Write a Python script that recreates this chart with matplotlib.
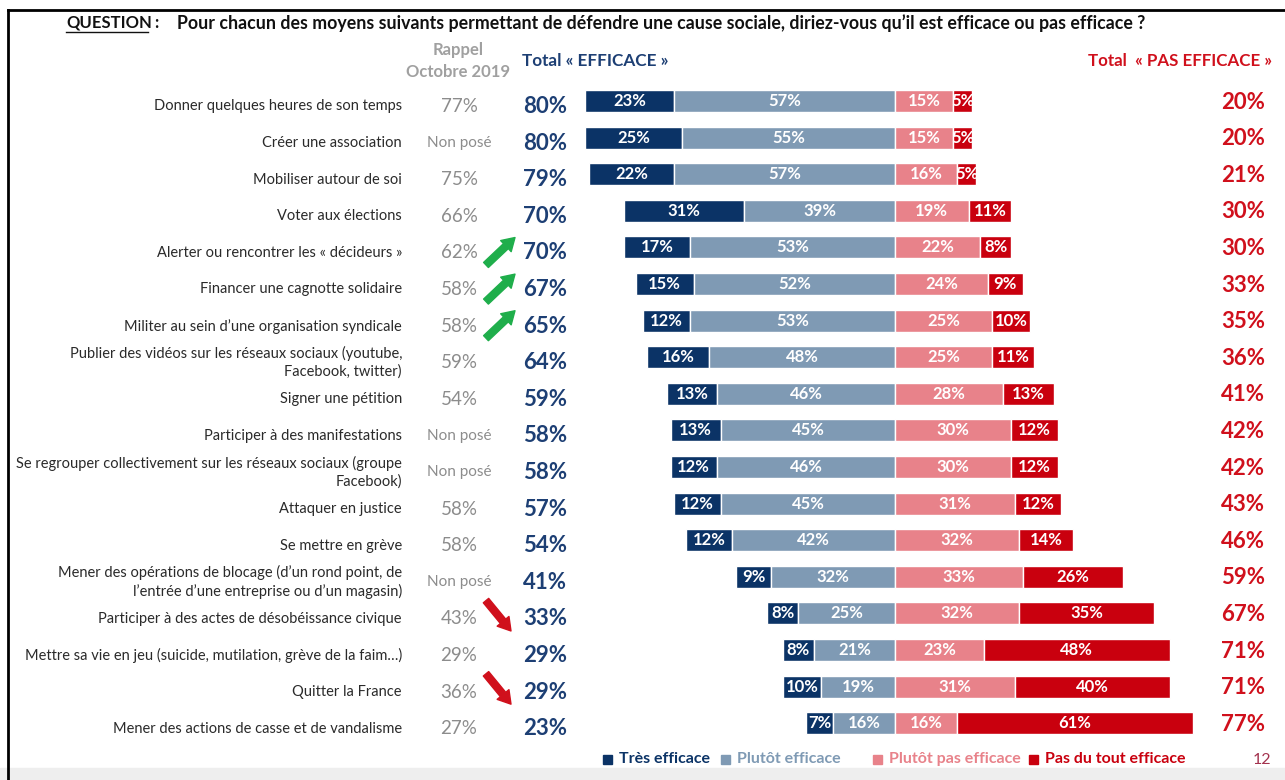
"""Diverging stacked bars: efficacité perçue des moyens de défendre une cause sociale."""

import matplotlib

matplotlib.use("Agg")
import matplotlib.pyplot as plt
from matplotlib.lines import Line2D
from matplotlib.patches import Rectangle

plt.rcParams["font.family"] = ["Lato", "DejaVu Sans"]

LABELS = [
    "Donner quelques heures de son temps",
    "Créer une association",
    "Mobiliser autour de soi",
    "Voter aux élections",
    "Alerter ou rencontrer les « décideurs »",
    "Financer une cagnotte solidaire",
    "Militer au sein d’une organisation syndicale",
    "Publier des vidéos sur les réseaux sociaux (youtube,\nFacebook, twitter)",
    "Signer une pétition",
    "Participer à des manifestations",
    "Se regrouper collectivement sur les réseaux sociaux (groupe\nFacebook)",
    "Attaquer en justice",
    "Se mettre en grève",
    "Mener des opérations de blocage (d’un rond point, de\nl’entrée d’une entreprise ou d’un magasin)",
    "Participer à des actes de désobéissance civique",
    "Mettre sa vie en jeu (suicide, mutilation, grève de la faim…)",
    "Quitter la France",
    "Mener des actions de casse et de vandalisme",
]
RAPPEL_2019 = ["77%", "Non posé", "75%", "66%", "62%", "58%", "58%", "59%", "54%",
               "Non posé", "Non posé", "58%", "58%", "Non posé", "43%", "29%", "36%", "27%"]
TOTAL_EFFICACE = [80, 80, 79, 70, 70, 67, 65, 64, 59, 58, 58, 57, 54, 41, 33, 29, 29, 23]
TOTAL_PAS = [20, 20, 21, 30, 30, 33, 35, 36, 41, 42, 42, 43, 46, 59, 67, 71, 71, 77]
TRES = [23, 25, 22, 31, 17, 15, 12, 16, 13, 13, 12, 12, 12, 9, 8, 8, 10, 7]
PLUTOT = [57, 55, 57, 39, 53, 52, 53, 48, 46, 45, 46, 45, 42, 32, 25, 21, 19, 16]
PLUTOT_PAS = [15, 15, 16, 19, 22, 24, 25, 25, 28, 30, 30, 31, 32, 33, 32, 23, 31, 16]
PAS_DU_TOUT = [5, 5, 5, 11, 8, 9, 10, 11, 13, 12, 12, 12, 14, 26, 35, 48, 40, 61]
# trend arrows: row index -> direction
TRENDS = {4: "up", 5: "up", 6: "up", 14: "down", 16: "down"}

C_TRES = "#0B3366"
C_PLUTOT = "#7F9AB4"
C_PLUTOT_PAS = "#E8828A"
C_PAS = "#C9000E"
C_NAVY_TXT = "#1D3F74"
C_RED_TXT = "#D0101C"
C_GREY = "#8C8C8C"
C_GREEN = "#1FAE4B"

W, H = 1285, 780
fig = plt.figure(figsize=(W / 100, H / 100), dpi=100)
ax = fig.add_axes([0, 0, 1, 1])
ax.axis("off")

# x in percent around the centre line (px 895, 3.87 px per %), y = row index
PX_PER = 3.87
X0 = 895
ax.set_xlim(-X0 / PX_PER, (W - X0) / PX_PER)
ROW0, ROWSTEP = 101, 36.6
ax.set_ylim((H - ROW0) / ROWSTEP, -ROW0 / ROWSTEP)

rows = list(range(len(LABELS)))
bh = 0.6
neg_tres = [-(t + p) for t, p in zip(TRES, PLUTOT)]
neg_pl = [-p for p in PLUTOT]
kw = dict(height=bh, edgecolor="white", linewidth=1.0)
ax.barh(rows, TRES, left=neg_tres, color=C_TRES, **kw)
ax.barh(rows, PLUTOT, left=neg_pl, color=C_PLUTOT, **kw)
ax.barh(rows, PLUTOT_PAS, left=0, color=C_PLUTOT_PAS, **kw)
ax.barh(rows, PAS_DU_TOUT, left=PLUTOT_PAS, color=C_PAS, **kw)

seg_kw = dict(ha="center", va="center", color="white", fontsize=12, fontweight="bold")
for i in rows:
    ax.text(neg_tres[i] + TRES[i] / 2, i, f"{TRES[i]}%", **seg_kw)
    ax.text(neg_pl[i] / 2, i, f"{PLUTOT[i]}%", **seg_kw)
    ax.text(PLUTOT_PAS[i] / 2, i, f"{PLUTOT_PAS[i]}%", **seg_kw)
    ax.text(PLUTOT_PAS[i] + PAS_DU_TOUT[i] / 2, i, f"{PAS_DU_TOUT[i]}%", **seg_kw)

# text columns: x in figure fraction, y in row units
ty = ax.get_yaxis_transform()


def fx(px):
    return px / W


dy = 0.15  # left-hand columns sit slightly below the bar centres
for i in rows:
    ax.text(fx(402), i + dy, LABELS[i], transform=ty, ha="right", va="center",
            fontsize=10.5, color="#2A2A2A", linespacing=1.3)
    r = RAPPEL_2019[i]
    if r == "Non posé":
        ax.text(fx(459), i + dy, r, transform=ty, ha="center", va="center",
                fontsize=11, color=C_GREY)
    else:
        ax.text(fx(459), i + dy, r, transform=ty, ha="center", va="center",
                fontsize=13.5, color=C_GREY)
    ax.text(fx(545), i + dy, f"{TOTAL_EFFICACE[i]}%", transform=ty, ha="center",
            va="center", fontsize=16, fontweight="bold", color=C_NAVY_TXT)
    ax.text(fx(1265), i + 0.03, f"{TOTAL_PAS[i]}%", transform=ty, ha="right",
            va="center", fontsize=16, fontweight="bold", color=C_RED_TXT)

for i, d in TRENDS.items():
    if d == "up":
        tail, head, col = (fx(486), i + dy + 0.33), (fx(515), i + dy - 0.42), C_GREEN
    else:
        tail, head, col = (fx(486), i + dy - 0.5), (fx(511), i + dy + 0.33), C_RED_TXT
    ax.annotate("", xy=head, xytext=tail, xycoords=ty, textcoords=ty,
                arrowprops=dict(arrowstyle="simple,head_length=0.9,head_width=1.1,tail_width=0.5",
                                color=col, shrinkA=0, shrinkB=0))

# headers
ax.text(fx(458), 1 - 61 / H, "Rappel\nOctobre 2019", transform=ax.transAxes,
        ha="center", va="center", fontsize=12, fontweight="bold", color="#A0A0A0",
        linespacing=1.45)
ax.text(fx(522), 1 - 61 / H, "Total « EFFICACE »", transform=ax.transAxes,
        ha="left", va="center", fontsize=12.3, fontweight="bold", color=C_NAVY_TXT)
ax.text(fx(1272), 1 - 61 / H, "Total  « PAS EFFICACE »", transform=ax.transAxes,
        ha="right", va="center", fontsize=12.2, fontweight="bold", color=C_RED_TXT)

# question line
ax.text(fx(66), 1 - 23 / H, "QUESTION", transform=ax.transAxes, ha="left",
        va="center", fontsize=12, fontweight="bold", color="#111111")
fig.add_artist(Line2D([fx(66), fx(148)], [1 - 32 / H] * 2, color="#111111", lw=1.0))
ax.text(fx(154), 1 - 23 / H, ":", transform=ax.transAxes, ha="left", va="center",
        fontsize=12, fontweight="bold", color="#111111")
ax.text(fx(177), 1 - 23 / H,
        "Pour chacun des moyens suivants permettant de défendre une cause sociale, "
        "diriez-vous qu’il est efficace ou pas efficace ?",
        transform=ax.transAxes, ha="left", va="center", fontsize=12.8,
        fontweight="bold", color="#111111")

# legend
LEGEND = [("Très efficace", C_TRES, 603), ("Plutôt efficace", C_PLUTOT, 721),
          ("Plutôt pas efficace", C_PLUTOT_PAS, 873), ("Pas du tout efficace", C_PAS, 1029)]
for name, col, x in LEGEND:
    fig.add_artist(Rectangle((fx(x), 1 - 764 / H), 9 / W, 9 / H, color=col,
                             transform=fig.transFigure))
    ax.text(fx(x + 16), 1 - 759 / H, name, transform=ax.transAxes, ha="left",
            va="center", fontsize=11.5, fontweight="bold", color=col)
ax.text(fx(1262), 1 - 760 / H, "12", transform=ax.transAxes, ha="center",
        va="center", fontsize=11.5, color="#A3324E")

# slide frame and bottom shading
fig.add_artist(Line2D([fx(8), 1], [1 - 10 / H] * 2, color="black", lw=2.0))
fig.add_artist(Line2D([fx(8), fx(8)], [0, 1 - 10 / H], color="black", lw=2.0))
fig.add_artist(Rectangle((0, 0), 1, 12 / H, color="#EEEEEE", transform=fig.transFigure,
                         zorder=-1))

fig.savefig("out.png", dpi=100)
